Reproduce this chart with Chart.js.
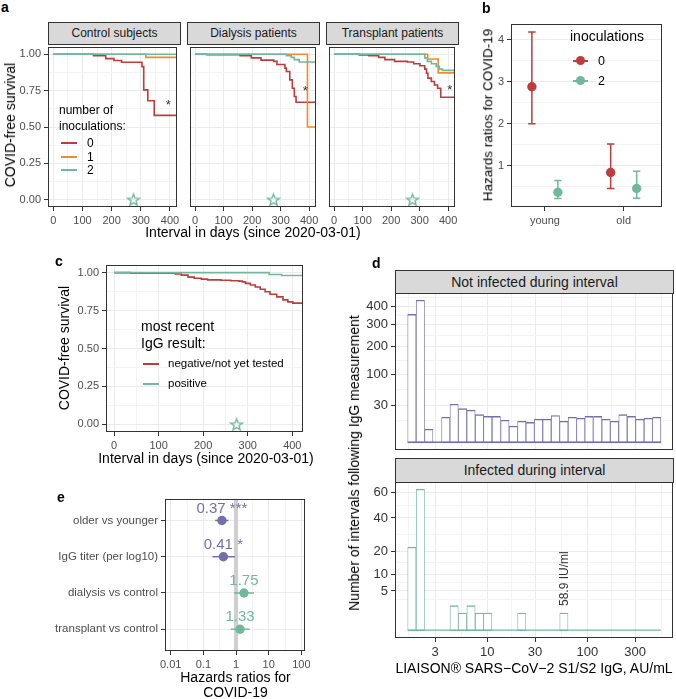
<!DOCTYPE html>
<html>
<head>
<meta charset="utf-8">
<title>COVID-free survival, hazard ratios and IgG titers</title>
<script src="https://cdn.jsdelivr.net/npm/chart.js@4.4.1/dist/chart.umd.min.js"></script>
<style>
  body { margin: 0; background: #fff; }
  #fig { position: relative; width: 676px; height: 699px; overflow: hidden; font-family: "Liberation Sans", Arial, sans-serif; }
  #fig canvas { position: absolute; }
  .t { position: absolute; white-space: nowrap; line-height: 1; color: #000; }
  .strip { position: absolute; box-sizing: border-box; background: #d9d9d9; border: 1px solid #333; color: #1a1a1a; text-align: center; white-space: nowrap; }
  .key { position: absolute; height: 2px; margin: 0; padding: 0; }
  .dot { position: absolute; border-radius: 50%; }
</style>
</head>
<body>
<div id="fig"></div>
<script>
// ---------- data ----------
const inoculations = ['0', '1', '2'];
const markDay = 275;   // green star on the time axis

// Kaplan-Meier steps: [day since 2020-03-01, COVID-free survival]
const controlInoc0 = [[0,1],[138,0.99],[180,0.97],[208,0.957],[234,0.945],[304,0.915],[310,0.755],[324,0.68],[346,0.58],[424,0.58]];
const controlInoc1 = [[0,1],[317,0.979],[424,0.979]];
const controlInoc2 = [[0,1],[424,1]];
const dialysisInoc0 = [[0,1],[40,0.997],[158,0.99],[197,0.975],[231,0.96],[276,0.951],[287,0.93],[315,0.905],[320,0.882],[332,0.824],[341,0.766],[348,0.71],[354,0.67],[424,0.67]];
const dialysisInoc1 = [[0,1],[394,0.5],[424,0.5]];
const dialysisInoc2 = [[0,1],[320,0.99],[337,0.979],[348,0.963],[365,0.947],[424,0.947]];
const transplantInoc0 = [[0,1],[88,0.996],[122,0.991],[156,0.979],[178,0.963],[212,0.951],[257,0.947],[279,0.935],[301,0.921],[318,0.898],[324,0.87],[329,0.836],[341,0.813],[352,0.789],[363,0.766],[374,0.705],[424,0.705]];
const transplantInoc1 = [[0,1],[328,0.968],[365,0.872],[424,0.872]];
const transplantInoc2 = [[0,1],[318,0.975],[327,0.951],[341,0.935],[358,0.917],[369,0.898],[380,0.889],[424,0.889]];

const iggGroups = ['negative/not yet tested', 'positive'];
const iggNegative = [[0,1],[37,0.996],[137,0.991],[151,0.983],[166,0.97],[180,0.963],[196,0.957],[210,0.952],[240,0.95],[262,0.946],[280,0.944],[288,0.939],[295,0.929],[306,0.918],[317,0.905],[328,0.89],[339,0.874],[350,0.857],[365,0.84],[379,0.82],[390,0.807],[401,0.799],[424,0.797]];
const iggPositive = [[0,1],[348,0.987],[376,0.981],[424,0.981]];

// b: hazard ratios by age group
const ageGroups = ['young', 'old'];
const hrGroups = ['0', '2'];
const hrNone = [2.88, 0.84], hrNoneLo = [2.0, 0.46], hrNoneHi = [4.18, 1.52];
const hrTwo = [0.37, 0.46], hrTwoLo = [0.22, 0.23], hrTwoHi = [0.65, 0.87];

// d: histogram of IgG titers (bin centres, AU/mL) and counts
const titerBins = [1.76, 2.14, 2.60, 3.16, 3.84, 4.66, 5.66, 6.87, 8.35, 10.1, 12.3, 15.0, 18.2, 22.1, 26.8, 32.5, 39.5, 48.0, 58.3, 70.8, 86.0, 104, 127, 154, 187, 227, 276, 335, 407, 494];
const notInfected = [353, 436, 4, 0, 14, 32, 25, 23, 17, 15, 15, 11, 6, 10, 9, 12, 12, 16, 10, 14, 13, 15, 15, 12, 10, 17, 15, 12, 13, 14];
const infected = [22, 63, 0, 0, 0, 2, 1, 2, 1, 1, 0, 0, 0, 1, 0, 0, 0, 0, 1, 0, 0, 0, 0, 0, 0, 0, 0, 0, 0, 0];
const cutoffTiter = 58.9;

// e: Cox model hazard ratios
const predictors = ['older vs younger', 'IgG titer (per log10)', 'dialysis vs control', 'transplant vs control'];
const hazard = [0.37, 0.41, 1.75, 1.33];
const hazardLo = [0.23, 0.19, 0.87, 0.69];
const hazardHi = [0.59, 0.93, 3.55, 2.62];
const hazardText = ['0.37 ***', '0.41 *', '1.75', '1.33'];

// ---------- styling ----------
const red = '#bc3d3b', orange = '#ef8b2c', green = '#72b89c', purple = '#736fad';
const inocColors = [red, orange, green];
const FONT = '"Liberation Sans", Arial, sans-serif';
Chart.defaults.font.family = FONT;
Chart.defaults.color = '#4d4d4d';

// square-root axis (ggplot scale_y_sqrt)
class SqrtScale extends Chart.LinearScale {
  getPixelForValue(v) {
    const o = this.options;
    return this.getPixelForDecimal((Math.sqrt(Math.max(v, 0)) - o.tMin) / (o.tMax - o.tMin));
  }
}
SqrtScale.id = 'sqrt';
SqrtScale.defaults = Chart.LinearScale.defaults;
Chart.register(SqrtScale);

const frame = {
  id: 'frame',
  afterDatasetsDraw(chart) {
    const a = chart.chartArea, ctx = chart.ctx;
    ctx.save();
    ctx.strokeStyle = '#333';
    ctx.lineWidth = 1;
    ctx.strokeRect(Math.round(a.left) + 0.5, Math.round(a.top) + 0.5, Math.round(a.right - a.left) - 1, Math.round(a.bottom - a.top) - 1);
    ctx.restore();
  }
};

const refLine = {
  id: 'refLine',
  beforeDatasetsDraw(chart, args, opts) {
    if (opts.value === undefined) return;
    const a = chart.chartArea, ctx = chart.ctx;
    const x = chart.scales.x.getPixelForValue(opts.value);
    ctx.save();
    ctx.strokeStyle = opts.color;
    ctx.lineWidth = opts.width;
    ctx.beginPath();
    ctx.moveTo(x, a.top);
    ctx.lineTo(x, a.bottom);
    ctx.stroke();
    ctx.restore();
  }
};

const errorBars = {
  id: 'errorBars',
  beforeDatasetsDraw(chart) {
    const ctx = chart.ctx;
    chart.data.datasets.forEach((ds, i) => {
      if (!ds.lo) return;
      const horiz = ds.errAxis === 'x';
      const sc = chart.scales[horiz ? 'x' : 'y'];
      chart.getDatasetMeta(i).data.forEach((pt, j) => {
        const a = sc.getPixelForValue(ds.lo[j]), b = sc.getPixelForValue(ds.hi[j]);
        ctx.save();
        ctx.strokeStyle = Array.isArray(ds.errColor) ? ds.errColor[j] : ds.errColor;
        ctx.lineWidth = 1.5;
        ctx.beginPath();
        if (horiz) {
          ctx.moveTo(a, pt.y); ctx.lineTo(b, pt.y);
        } else {
          ctx.moveTo(pt.x, a); ctx.lineTo(pt.x, b);
          if (ds.cap) for (const v of [a, b]) { ctx.moveTo(pt.x - ds.cap, v); ctx.lineTo(pt.x + ds.cap, v); }
        }
        ctx.stroke();
        ctx.restore();
      });
    });
  }
};

// histogram baseline: zero-count bins still show as a flat outline
const barBase = {
  id: 'barBase',
  afterDatasetsDraw(chart) {
    const ctx = chart.ctx;
    chart.data.datasets.forEach((ds, i) => {
      if (!ds.baseLine) return;
      const bars = chart.getDatasetMeta(i).data;
      const first = bars[0], last = bars[bars.length - 1];
      const y = chart.scales.y.getPixelForValue(0) - 0.7;
      ctx.save();
      ctx.strokeStyle = ds.borderColor;
      ctx.lineWidth = 1.4;
      ctx.beginPath();
      ctx.moveTo(first.x - first.width / 2, y);
      ctx.lineTo(last.x + last.width / 2, y);
      ctx.stroke();
      ctx.restore();
    });
  }
};

const notes = {
  id: 'notes',
  afterDatasetsDraw(chart, args, opts) {
    const ctx = chart.ctx;
    (opts.items || []).forEach(n => {
      const x = chart.scales.x.getPixelForValue(n.x) + (n.dx || 0);
      const y = chart.scales.y.getPixelForValue(n.y) + (n.dy || 0);
      ctx.save();
      ctx.fillStyle = n.color || '#333';
      ctx.font = (n.size || 12) + 'px ' + FONT;
      ctx.textBaseline = 'middle';
      ctx.translate(x, y);
      if (n.rot) { ctx.rotate(-Math.PI / 2); ctx.textAlign = 'left'; } else ctx.textAlign = 'center';
      ctx.fillText(n.text, 0, 0);
      ctx.restore();
    });
  }
};
Chart.register(frame, refLine, errorBars, barBase, notes);

function starImage(color) {
  const c = document.createElement('canvas');
  c.width = c.height = 15;
  const g = c.getContext('2d');
  g.strokeStyle = color;
  g.lineWidth = 1.4;
  g.beginPath();
  for (let k = 0; k < 10; k++) {
    const r = k % 2 ? 2.6 : 6.1, ang = -Math.PI / 2 + k * Math.PI / 5;
    const px = 7.5 + r * Math.cos(ang), py = 8 + r * Math.sin(ang);
    if (k) g.lineTo(px, py); else g.moveTo(px, py);
  }
  g.closePath();
  g.stroke();
  return c;
}
const starImg = starImage(green);

// axis with ggplot-like major/minor grid
function axis(o) {
  const isMinor = c => c.tick && c.tick.minor;
  return {
    type: o.type || 'linear', min: o.min, max: o.max, reverse: !!o.reverse, offset: false,
    tMin: o.tMin, tMax: o.tMax,
    border: { display: false },
    grid: {
      display: true, drawOnChartArea: o.grid !== false, offset: false,
      drawTicks: !!o.show, tickLength: 4,
      color: c => isMinor(c) ? '#f3f3f3' : '#ebebeb',
      lineWidth: 1,
      tickColor: c => isMinor(c) ? 'rgba(0,0,0,0)' : '#333',
      tickWidth: 1
    },
    ticks: {
      display: !!o.show, autoSkip: false, maxRotation: 0, padding: 3,
      font: { size: o.font || 11 }, color: o.color || '#4d4d4d',
      callback: (v, i, ts) => ts[i].minor ? '' : (o.labels ? o.labels[Math.round(v) - 1] : (o.fmt ? o.fmt(v) : String(v)))
    },
    afterBuildTicks: s => {
      s.ticks = o.major.map(v => ({ value: v }))
        .concat((o.minor || []).map(v => ({ value: v, minor: true })))
        .sort((p, q) => p.value - q.value);
    },
    afterFit: s => {
      if (o.w !== undefined) s.width = o.w;
      if (o.h !== undefined) s.height = o.h;
      s.paddingLeft = s.paddingRight = s.paddingTop = s.paddingBottom = 0;
    }
  };
}

const fig = document.getElementById('fig');

function place(area, yW, xH, config) {
  const pad = 4;
  const cv = document.createElement('canvas');
  cv.width = area[2] - area[0] + yW + 2 * pad;
  cv.height = area[3] - area[1] + xH + 2 * pad;
  cv.style.left = (area[0] - yW - pad) + 'px';
  cv.style.top = (area[1] - pad) + 'px';
  fig.appendChild(cv);
  const o = config.options;
  o.responsive = false;
  o.animation = false;
  o.events = [];
  o.devicePixelRatio = 1;
  o.layout = { padding: pad };
  o.plugins = Object.assign({ legend: { display: false }, tooltip: { enabled: false } }, o.plugins || {});
  return new Chart(cv, config);
}

function text(str, x, y, size, opt = {}) {
  const d = document.createElement('div');
  d.className = 't';
  d.textContent = str;
  d.style.left = x + 'px';
  d.style.top = y + 'px';
  d.style.fontSize = size + 'px';
  if (opt.bold) d.style.fontWeight = 'bold';
  if (opt.color) d.style.color = opt.color;
  const ax = opt.left ? '0' : '-50%';
  d.style.transform = 'translate(' + ax + ',-50%)' + (opt.rot ? ' rotate(-90deg)' : '');
  fig.appendChild(d);
}

function strip(str, x0, y0, x1, y1, size) {
  const d = document.createElement('div');
  d.className = 'strip';
  d.textContent = str;
  Object.assign(d.style, { left: x0 + 'px', top: y0 + 'px', width: (x1 - x0 + 1) + 'px', height: (y1 - y0 + 1) + 'px', lineHeight: (y1 - y0 - 1) + 'px', fontSize: size + 'px' });
  fig.appendChild(d);
}

function keyLine(x0, x1, y, color, dotR) {
  const l = document.createElement('div');
  l.className = 'key';
  l.style.left = x0 + 'px';
  l.style.top = (y - 1) + 'px';
  l.style.width = (x1 - x0) + 'px';
  l.style.background = color;
  fig.appendChild(l);
  if (dotR) {
    const d = document.createElement('div');
    d.className = 'dot';
    const cx = (x0 + x1) / 2;
    Object.assign(d.style, { left: (cx - dotR) + 'px', top: (y - dotR) + 'px', width: 2 * dotR + 'px', height: 2 * dotR + 'px', background: color });
    fig.appendChild(d);
  }
}

// ---------- survival helpers ----------
const kmX = { min: -18, max: 424, major: [0, 100, 200, 300, 400], minor: [50, 150, 250, 350] };
const kmY = { min: -0.05, max: 1.05, major: [0, 0.25, 0.5, 0.75, 1], minor: [0.125, 0.375, 0.625, 0.875], fmt: v => v.toFixed(2) };

function kmDatasets(curves, colors) {
  return curves.map((pts, k) => ({
    data: pts.map(p => ({ x: p[0], y: p[1] })),
    borderColor: colors[k], borderWidth: 1.6, stepped: 'before', pointRadius: 0, fill: false, order: curves.length - k
  })).concat([{ data: [{ x: markDay, y: 0 }], showLine: false, pointStyle: starImg, pointRadius: 6, order: 0 }]);
}

// ---------- a ----------
const facets = [
  { name: 'Control subjects', area: [48, 44, 180, 207], curves: [controlInoc0, controlInoc1, controlInoc2], mark: [394, 0.65] },
  { name: 'Dialysis patients', area: [187, 44, 319, 207], curves: [dialysisInoc0, dialysisInoc1, dialysisInoc2], mark: [386, 0.745] },
  { name: 'Transplant patients', area: [326, 44, 458, 207], curves: [transplantInoc0, transplantInoc1, transplantInoc2], mark: [406, 0.75] }
];
facets.forEach((f, i) => {
  const yW = i === 0 ? 44 : 0;
  place(f.area, yW, 22, {
    type: 'line',
    data: { datasets: kmDatasets(f.curves, inocColors) },
    options: {
      scales: { x: axis({ ...kmX, show: true, h: 22 }), y: axis({ ...kmY, show: i === 0, w: yW }) },
      plugins: { notes: { items: [{ x: f.mark[0], y: f.mark[1], text: '*', size: 13, color: '#333' }] } }
    }
  });
  strip(f.name, f.area[0], 22, f.area[2], f.area[1], 12);
});
text('a', 1, 6.9, 14, { bold: true, left: true });
text('COVID-free survival', 10, 125, 14, { rot: true });
text('Interval in days (since 2020-03-01)', 253, 232, 14);
text('number of', 59, 109.5, 12, { left: true });
text('inoculations:', 59, 125.5, 12, { left: true });
inoculations.forEach((g, k) => {
  const y = 143.3 + k * 13.4;
  keyLine(61, 77, y, inocColors[k]);
  text(g, 87, y, 12, { left: true });
});

// ---------- b ----------
const dodge = 0.165;
place([511, 23, 663, 207], 30, 22, {
  type: 'scatter',
  data: {
    datasets: [
      { data: ageGroups.map((g, k) => ({ x: k + 1 - dodge, y: hrNone[k] })), lo: hrNoneLo, hi: hrNoneHi, cap: 3.7, errColor: red, backgroundColor: red, borderWidth: 0, pointRadius: 4.7 },
      { data: ageGroups.map((g, k) => ({ x: k + 1 + dodge, y: hrTwo[k] })), lo: hrTwoLo, hi: hrTwoHi, cap: 3.7, errColor: green, backgroundColor: green, borderWidth: 0, pointRadius: 4.7 }
    ]
  },
  options: {
    scales: {
      x: axis({ min: 0.57, max: 2.49, major: [1, 2], labels: ageGroups, show: true, grid: false, h: 22 }),
      y: axis({ min: 0.02, max: 4.38, major: [1, 2, 3, 4], minor: [0.5, 1.5, 2.5, 3.5], show: true, w: 30 })
    }
  }
});
text('b', 482, 7.9, 14, { bold: true, left: true });
text('Hazards ratios for COVID-19', 487.5, 114.5, 13.5, { rot: true });
text('inoculations', 570, 36, 14, { left: true });
hrGroups.forEach((g, k) => {
  const y = 60.7 + k * 20;
  keyLine(573, 588, y, [red, green][k], 4.5);
  text(g, 598, y, 12.5, { left: true });
});

// ---------- c ----------
place([106, 262, 306, 432], 44, 22, {
  type: 'line',
  data: { datasets: kmDatasets([iggNegative, iggPositive], [red, green]) },
  options: { scales: { x: axis({ ...kmX, show: true, h: 22 }), y: axis({ ...kmY, show: true, w: 44 }) } }
});
text('c', 55, 260.9, 14, { bold: true, left: true });
text('COVID-free survival', 64, 347.5, 14, { rot: true });
text('Interval in days (since 2020-03-01)', 206, 458, 14);
text('most recent', 141, 325.7, 14, { left: true });
text('IgG result:', 141, 343.3, 14, { left: true });
iggGroups.forEach((g, k) => {
  const y = 364.3 + k * 20;
  keyLine(143, 159, y, [red, green][k]);
  text(g, 168, y, 11.5, { left: true });
});

// ---------- d ----------
const titerX = { type: 'logarithmic', min: 1.194, max: 719, major: [3, 10, 30, 100, 300], minor: [1.64, 5.48, 17.3, 54.8, 173, 548], font: 13, color: '#333' };
const barStyle = color => ({
  backgroundColor: '#fff', borderColor: color, borderWidth: { left: 0.8, right: 0.8, top: 1.4, bottom: 1.4 },
  borderSkipped: false, barPercentage: 1, categoryPercentage: 1, baseLine: true
});
place([395, 293, 673, 450], 36, 0, {
  type: 'bar',
  data: { datasets: [{ data: titerBins.map((b, i) => ({ x: b, y: notInfected[i] })), ...barStyle(purple) }] },
  options: {
    scales: {
      x: axis({ ...titerX, show: false, h: 0 }),
      y: axis({ type: 'sqrt', tMin: -1.04, tMax: 21.92, major: [30, 100, 200, 300, 400], minor: [10.4, 60, 146, 248, 348, 455], show: true, w: 36, font: 13, color: '#333' })
    }
  }
});
place([395, 482, 673, 638], 36, 24, {
  type: 'bar',
  data: { datasets: [{ data: titerBins.map((b, i) => ({ x: b, y: infected[i] })), ...barStyle(green) }] },
  options: {
    scales: {
      x: axis({ ...titerX, show: true, h: 24 }),
      y: axis({ type: 'sqrt', tMin: -0.4, tMax: 8.34, major: [5, 10, 20, 40, 60], minor: [3.14, 7.3, 14.6, 29.1, 49.5], show: true, w: 36, font: 13, color: '#333' })
    },
    plugins: { notes: { items: [{ x: cutoffTiter, y: 1, dy: -7, text: cutoffTiter + ' IU/ml', size: 12, color: '#333', rot: true }] } }
  }
});
strip('Not infected during interval', 395, 270, 673, 293, 14);
strip('Infected during interval', 395, 458, 673, 482, 14);
text('d', 372, 262.9, 14, { bold: true, left: true });
text('Number of intervals following IgG measurement', 354, 463, 14, { rot: true });
text('LIAISON\u00ae SARS\u2212CoV\u22122 S1/S2 IgG, AU/mL', 534, 668, 14);

// ---------- e ----------
const rowColors = [purple, purple, green, green];
place([165, 498, 306, 651], 160, 22, {
  type: 'scatter',
  data: {
    datasets: [{
      data: predictors.map((p, k) => ({ x: hazard[k], y: k + 1 })),
      lo: hazardLo, hi: hazardHi, errAxis: 'x', errColor: rowColors,
      backgroundColor: rowColors, borderWidth: 0, pointRadius: 4.7
    }]
  },
  options: {
    scales: {
      x: axis({ type: 'logarithmic', min: 0.0067, max: 132, major: [0.01, 0.1, 1, 10, 100], minor: [0.0316, 0.316, 3.16, 31.6], show: true, h: 22 }),
      y: axis({ min: 0.4, max: 4.6, reverse: true, major: [1, 2, 3, 4], labels: predictors, show: true, w: 160, font: 11.5 })
    },
    plugins: {
      refLine: { value: 1, color: '#cfcfcf', width: 4 },
      notes: { items: predictors.map((p, k) => ({ x: hazard[k], y: k + 1, dy: -12, text: hazardText[k], size: 15, color: rowColors[k] })) }
    }
  }
});
text('e', 57, 496.9, 14, { bold: true, left: true });
text('Hazards ratios for', 235.5, 677, 14);
text('COVID-19', 235.5, 692, 14);
</script>
</body>
</html>
